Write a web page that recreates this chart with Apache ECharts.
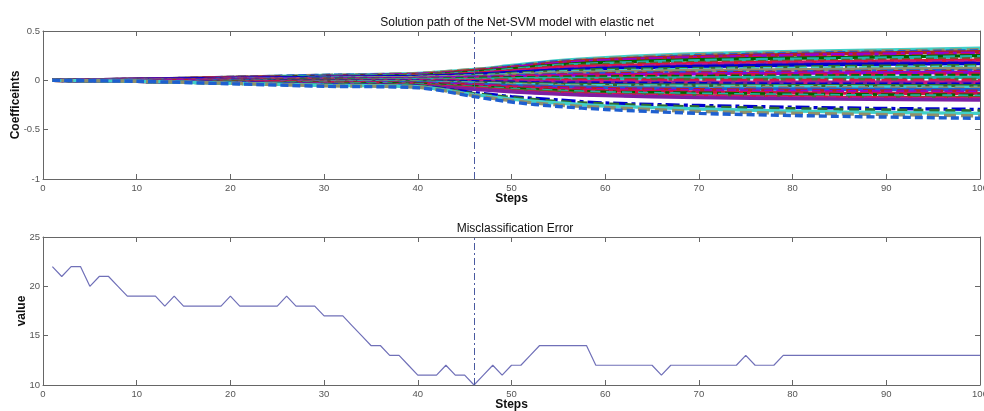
<!DOCTYPE html>
<html>
<head>
<meta charset="utf-8">
<script src="https://cdn.jsdelivr.net/npm/echarts@6/dist/echarts.min.js"></script>
<style>html,body{margin:0;padding:0;background:#fff}#c{width:984px;height:411px}</style>
</head>
<body>
<div id="c"></div>
<script>
// ---- Data ----
const xTicks = [0, 10, 20, 30, 40, 50, 60, 70, 80, 90, 100];
const coefYTicks = [-1, -0.5, 0, 0.5];
const errYTicks = [10, 15, 20, 25];
const selectedStep = 46;

// steps at which each coefficient path is read
const knotSteps = [1, 10, 20, 30, 40, 46, 50, 55, 60, 70, 85, 100];
const coefPaths = [
  [0, 0.01, 0.03, 0.05, 0.07, 0.11, 0.15, 0.20, 0.23, 0.27, 0.30, 0.325],
  [0, 0.01, 0.03, 0.05, 0.07, 0.11, 0.14, 0.19, 0.22, 0.26, 0.29, 0.31],
  [0, 0.01, 0.03, 0.05, 0.06, 0.10, 0.14, 0.19, 0.21, 0.25, 0.28, 0.30],
  [0, 0.01, 0.03, 0.04, 0.06, 0.10, 0.13, 0.18, 0.21, 0.24, 0.27, 0.29],
  [0, 0.01, 0.02, 0.04, 0.06, 0.09, 0.13, 0.17, 0.20, 0.23, 0.26, 0.275],
  [0, 0.01, 0.02, 0.04, 0.05, 0.09, 0.12, 0.16, 0.18, 0.22, 0.24, 0.26],
  [0, 0.01, 0.02, 0.04, 0.05, 0.085, 0.115, 0.155, 0.18, 0.21, 0.23, 0.25],
  [0, 0.01, 0.02, 0.04, 0.05, 0.08, 0.11, 0.15, 0.17, 0.20, 0.22, 0.24],
  [0, 0.01, 0.02, 0.03, 0.05, 0.075, 0.10, 0.14, 0.16, 0.18, 0.20, 0.22],
  [0, 0.01, 0.02, 0.03, 0.04, 0.07, 0.095, 0.13, 0.145, 0.17, 0.19, 0.205],
  [0, 0.01, 0.02, 0.03, 0.04, 0.065, 0.09, 0.12, 0.135, 0.16, 0.18, 0.19],
  [0, 0.01, 0.02, 0.03, 0.04, 0.06, 0.08, 0.11, 0.13, 0.15, 0.17, 0.18],
  [0, 0.01, 0.02, 0.03, 0.04, 0.06, 0.08, 0.105, 0.12, 0.14, 0.16, 0.17],
  [0, 0.00, 0.01, 0.02, 0.03, 0.05, 0.07, 0.09, 0.11, 0.12, 0.14, 0.15],
  [0, 0.00, 0.01, 0.02, 0.03, 0.045, 0.06, 0.085, 0.095, 0.11, 0.125, 0.135],
  [0, 0.00, 0.01, 0.02, 0.03, 0.04, 0.055, 0.075, 0.085, 0.10, 0.11, 0.12],
  [0, 0.00, 0.01, 0.02, 0.02, 0.035, 0.045, 0.06, 0.07, 0.08, 0.09, 0.10],
  [0, 0.00, 0.01, 0.01, 0.02, 0.03, 0.04, 0.055, 0.065, 0.075, 0.085, 0.09],
  [0, 0.00, 0.01, 0.01, 0.02, 0.03, 0.035, 0.05, 0.055, 0.065, 0.075, 0.08],
  [0, 0.00, 0.01, 0.01, 0.01, 0.02, 0.03, 0.04, 0.045, 0.055, 0.06, 0.065],
  [0, 0.00, 0.00, 0.01, 0.01, 0.02, 0.025, 0.03, 0.035, 0.04, 0.045, 0.05],
  [0, 0.00, 0.00, 0.00, 0.01, 0.01, 0.015, 0.02, 0.02, 0.025, 0.03, 0.03],
  [0, 0.00, 0.00, 0.00, 0.00, 0.00, 0.005, 0.005, 0.01, 0.01, 0.01, 0.01],
  [0, 0.00, 0.00, 0.00, 0.00, 0.00, 0.00, 0.00, 0.00, 0.00, 0.00, 0.00],
  [0, 0.00, 0.00, 0.00, -0.01, -0.01, -0.01, -0.015, -0.015, -0.02, -0.02, -0.02],
  [0, 0.00, 0.00, -0.01, -0.01, -0.015, -0.02, -0.02, -0.025, -0.025, -0.03, -0.03],
  [0, 0.00, 0.00, -0.01, -0.01, -0.015, -0.02, -0.03, -0.03, -0.035, -0.04, -0.04],
  [0, 0.00, -0.01, -0.01, -0.015, -0.025, -0.03, -0.04, -0.045, -0.05, -0.055, -0.055],
  [0, 0.00, -0.01, -0.015, -0.02, -0.03, -0.04, -0.05, -0.055, -0.06, -0.065, -0.07],
  [0, 0.00, -0.01, -0.015, -0.02, -0.035, -0.045, -0.055, -0.065, -0.07, -0.075, -0.08],
  [0, 0.00, -0.01, -0.02, -0.025, -0.04, -0.055, -0.065, -0.075, -0.085, -0.09, -0.095],
  [0, 0.00, -0.01, -0.02, -0.03, -0.045, -0.065, -0.075, -0.085, -0.095, -0.105, -0.11],
  [0, 0.00, -0.015, -0.025, -0.035, -0.05, -0.07, -0.085, -0.095, -0.105, -0.115, -0.12],
  [0, -0.01, -0.015, -0.025, -0.04, -0.06, -0.075, -0.095, -0.105, -0.12, -0.13, -0.135],
  [0, -0.01, -0.02, -0.03, -0.04, -0.065, -0.085, -0.105, -0.12, -0.13, -0.145, -0.15],
  [0, -0.01, -0.02, -0.03, -0.045, -0.07, -0.09, -0.11, -0.125, -0.14, -0.155, -0.16],
  [0, -0.01, -0.02, -0.035, -0.05, -0.075, -0.10, -0.12, -0.14, -0.155, -0.17, -0.175],
  [0, -0.01, -0.025, -0.04, -0.055, -0.08, -0.11, -0.13, -0.145, -0.16, -0.175, -0.185],
  [0, -0.01, -0.025, -0.04, -0.055, -0.085, -0.11, -0.135, -0.15, -0.165, -0.18, -0.19],
  [0, -0.01, -0.025, -0.04, -0.06, -0.09, -0.115, -0.14, -0.155, -0.175, -0.19, -0.20],
  [0, -0.01, -0.025, -0.045, -0.06, -0.125, -0.165, -0.20, -0.23, -0.255, -0.28, -0.295],
  [0, -0.01, -0.03, -0.045, -0.06, -0.135, -0.175, -0.215, -0.24, -0.27, -0.295, -0.31],
  [0, -0.01, -0.03, -0.05, -0.065, -0.145, -0.19, -0.23, -0.26, -0.29, -0.32, -0.335],
  [0, -0.01, -0.03, -0.055, -0.07, -0.155, -0.205, -0.25, -0.275, -0.315, -0.34, -0.36],
  [0, -0.01, -0.035, -0.06, -0.075, -0.165, -0.22, -0.265, -0.295, -0.335, -0.365, -0.385]
];

const errSteps = [];
for (let s = 1; s <= 100; s++) errSteps.push(s);
const errValues = [
  22, 21, 22, 22, 20, 21, 21, 20, 19, 19,
  19, 19, 18, 19, 18, 18, 18, 18, 18, 19,
  18, 18, 18, 18, 18, 19, 18, 18, 18, 17,
  17, 17, 16, 15, 14, 14, 13, 13, 12, 11,
  11, 11, 12, 11, 11, 10, 11, 12, 11, 12,
  12, 13, 14, 14, 14, 14, 14, 14, 12, 12,
  12, 12, 12, 12, 12, 11, 12, 12, 12, 12,
  12, 12, 12, 12, 13, 12, 12, 12, 13, 13,
  13, 13, 13, 13, 13, 13, 13, 13, 13, 13,
  13, 13, 13, 13, 13, 13, 13, 13, 13, 13
];

// ---- Styles ----
const palette = ['#40d0c8', '#b22222', '#006400', '#dc143c', '#0000cd', '#8f8f6a', '#9400d3',
                 '#20b2aa', '#c71585', '#2e6b2e', '#1e5fd0', '#d0104a', '#556b2f', '#7b1fa2'];
const dashTypes = ['solid', [12, 5], [8, 4], 'solid', [14, 4, 4, 4], [10, 6]];
const axisColor = '#666';
const FONT = 'Liberation Sans, Arial, sans-serif';
const labelStyle = { color: '#555', fontSize: 9.5, fontFamily: FONT };
const nameStyle = { color: '#111', fontSize: 12, fontWeight: 'bold', fontFamily: FONT };

function xAxisPair(grid) {
  return [
    { type: 'value', gridIndex: grid, min: 0, max: 100, interval: 10, position: 'bottom',
      axisLine: { onZero: false, lineStyle: { color: axisColor } },
      axisTick: { inside: true, length: 5, lineStyle: { color: axisColor } },
      axisLabel: Object.assign({ margin: 4 }, labelStyle),
      splitLine: { show: false },
      name: 'Steps', nameLocation: 'middle', nameGap: 14, nameTextStyle: nameStyle, nameMoveOverlap: false },
    { type: 'value', gridIndex: grid, min: 0, max: 100, interval: 10, position: 'top',
      axisLine: { onZero: false, lineStyle: { color: axisColor } },
      axisTick: { inside: true, length: 5, lineStyle: { color: axisColor } },
      axisLabel: { show: false }, splitLine: { show: false } }
  ];
}
function yAxisPair(grid, min, max, interval, name, gap) {
  return [
    { type: 'value', gridIndex: grid, min: min, max: max, interval: interval, position: 'left',
      axisLine: { show: true, onZero: false, lineStyle: { color: axisColor } },
      axisTick: { show: true, inside: true, length: 5, lineStyle: { color: axisColor } },
      axisLabel: Object.assign({ margin: 3 }, labelStyle),
      splitLine: { show: false },
      name: name, nameLocation: 'middle', nameGap: gap, nameTextStyle: nameStyle, nameMoveOverlap: false },
    { type: 'value', gridIndex: grid, min: min, max: max, interval: interval, position: 'right',
      axisLine: { show: true, onZero: false, lineStyle: { color: axisColor } },
      axisTick: { show: true, inside: true, length: 5, lineStyle: { color: axisColor } },
      axisLabel: { show: false }, splitLine: { show: false } }
  ];
}

const series = [];
coefPaths.forEach((path, i) => {
  series.push({
    type: 'line', xAxisIndex: 0, yAxisIndex: 0, symbol: 'none', silent: true, smooth: 0.3,
    data: knotSteps.map((s, k) => [s, path[k]]),
    lineStyle: { width: 3.4, color: palette[(i * 5) % palette.length], type: dashTypes[i % dashTypes.length], dashOffset: (i * 3) % 11 },
    z: 2
  });
});
const vline = { symbol: 'none', silent: true, label: { show: false },
  lineStyle: { color: '#4a5aa0', width: 1, type: [7, 3, 2, 3] }, data: [{ xAxis: selectedStep }] };
series.push({ type: 'line', xAxisIndex: 0, yAxisIndex: 0, data: [], markLine: vline, z: 5 });
series.push({
  type: 'line', xAxisIndex: 2, yAxisIndex: 2, symbol: 'none', silent: true,
  data: errSteps.map((s, k) => [s, errValues[k]]),
  lineStyle: { width: 1.2, color: '#7070b8' },
  markLine: vline
});

const chart = echarts.init(document.getElementById('c'), null, { renderer: 'canvas' });
chart.setOption({
  backgroundColor: '#fff',
  animation: false,
  title: [
    { text: 'Solution path of the Net-SVM model with elastic net', left: 512, top: 12, textAlign: 'center',
      textStyle: { fontSize: 12, fontWeight: 'normal', color: '#111', fontFamily: FONT } },
    { text: 'Misclassification Error', left: 510, top: 218, textAlign: 'center',
      textStyle: { fontSize: 12, fontWeight: 'normal', color: '#111', fontFamily: FONT } }
  ],
  grid: [
    { left: 43, right: 4, top: 31, height: 148, containLabel: false, outerBoundsMode: 'none' },
    { left: 43, right: 4, top: 237, height: 148, containLabel: false, outerBoundsMode: 'none' }
  ],
  xAxis: xAxisPair(0).concat(xAxisPair(1)),
  yAxis: yAxisPair(0, -1, 0.5, 0.5, 'Coefficeints', 21).concat(yAxisPair(1, 10, 25, 5, 'value', 15)),
  series: series
});
</script>
</body>
</html>
